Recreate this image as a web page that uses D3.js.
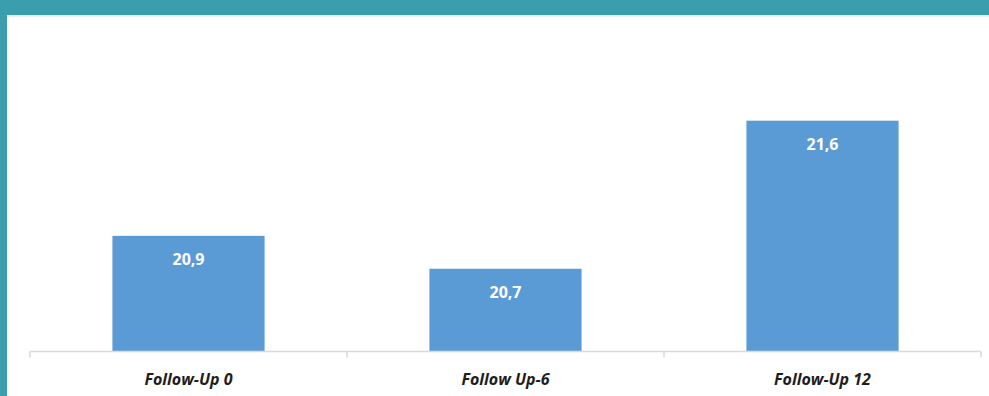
<!DOCTYPE html>
<html>
<head>
<meta charset="utf-8">
<script src="https://cdn.jsdelivr.net/npm/d3@7"></script>
<style>
  html, body { margin: 0; padding: 0; background: #fff; }
  svg { display: block; }
</style>
</head>
<body>
<svg id="chart" width="989" height="396"></svg>
<script>
const categories = ["Follow-Up 0", "Follow Up-6", "Follow-Up 12"];
const values = [20.9, 20.7, 21.6];
const valueLabels = ["20,9", "20,7", "21,6"];

const svg = d3.select("#chart");
const W = 989, H = 396;

// frame: teal band on top and left
svg.append("rect").attr("x", 0).attr("y", 0).attr("width", W).attr("height", H).attr("fill", "#ffffff");
svg.append("rect").attr("x", 0).attr("y", 0).attr("width", W).attr("height", 15).attr("fill", "#3a9eae");
svg.append("rect").attr("x", 0).attr("y", 0).attr("width", 7).attr("height", H).attr("fill", "#3a9eae");
svg.append("rect").attr("x", 7).attr("y", 15).attr("width", W - 7).attr("height", 2).attr("fill", "#ececec");

const x = d3.scaleBand().domain(categories).range([30, 981]).paddingInner(0.52).paddingOuter(0.26);
const y = d3.scaleLinear().domain([20.2, 21.8]).range([351, 351 - 1.6 * 164.5]);

const data = categories.map((c, i) => ({ c, v: values[i], label: valueLabels[i] }));

svg.selectAll("rect.bar").data(data).enter().append("rect")
  .attr("class", "bar")
  .attr("x", d => x(d.c))
  .attr("width", x.bandwidth())
  .attr("y", d => y(d.v))
  .attr("height", d => y(20.2) - y(d.v))
  .attr("fill", "#5b9bd5");

svg.selectAll("text.val").data(data).enter().append("text")
  .attr("class", "val")
  .attr("x", d => x(d.c) + x.bandwidth() / 2)
  .attr("y", d => y(d.v) + 29)
  .attr("text-anchor", "middle")
  .attr("fill", "#ffffff")
  .style("font-family", "'Open Sans', sans-serif")
  .style("font-weight", "bold")
  .style("font-size", "16px")
  .text(d => d.label);

// category axis
const axisG = svg.append("g").attr("transform", "translate(0,351.5)");
const edges = [30, 30 + (981 - 30) / 3, 30 + 2 * (981 - 30) / 3, 981];
axisG.append("line").attr("x1", 30).attr("x2", 981).attr("y1", 0).attr("y2", 0)
  .attr("stroke", "#d9d9d9").attr("stroke-width", 1.5);
axisG.selectAll("line.tick").data(edges).enter().append("line")
  .attr("class", "tick")
  .attr("x1", d => d).attr("x2", d => d).attr("y1", 0).attr("y2", 6)
  .attr("stroke", "#d9d9d9").attr("stroke-width", 1.5);

svg.selectAll("text.cat").data(categories).enter().append("text")
  .attr("class", "cat")
  .attr("x", d => x(d) + x.bandwidth() / 2)
  .attr("y", 385)
  .attr("text-anchor", "middle")
  .attr("fill", "#1e1e1e")
  .style("font-family", "'Open Sans', sans-serif")
  .style("font-weight", "bold")
  .style("font-style", "italic")
  .style("font-size", "16px")
  .text(d => d);
</script>
</body>
</html>
